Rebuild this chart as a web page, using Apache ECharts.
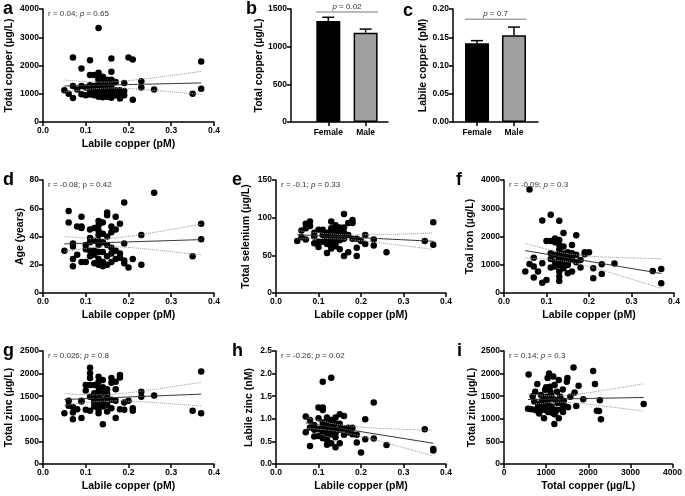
<!DOCTYPE html>
<html>
<head>
<meta charset="utf-8">
<script src="https://cdn.jsdelivr.net/npm/echarts@6/dist/echarts.min.js"></script>
<style>
  html, body { margin: 0; padding: 0; background: #fff; }
  #chart { width: 685px; height: 496px; }
</style>
</head>
<body>
<div id="chart"></div>
<script>
// ---- data ----
// a: labile copper vs total copper
var labileCuA = [0.05,0.06,0.07,0.07,0.07,0.08,0.09,0.09,0.09,0.10,0.10,0.11,0.11,0.11,0.11,0.12,0.12,0.12,0.13,0.13,0.13,0.13,0.13,0.13,0.14,0.14,0.14,0.14,0.15,0.15,0.15,0.16,0.16,0.16,0.16,0.16,0.16,0.17,0.17,0.18,0.18,0.18,0.19,0.19,0.19,0.20,0.21,0.21,0.23,0.23,0.26,0.35,0.37,0.37,0.12,0.13,0.14,0.15,0.14,0.13,0.15,0.16,0.12,0.17,0.11,0.15,0.14,0.16,0.13,0.12];
var totalCuA = [1120,1000,2280,1270,850,1150,1890,1270,980,1220,950,2190,1660,1120,970,1660,1270,950,3330,1740,1480,1240,1070,890,1600,1420,1180,950,1380,1120,890,2250,1780,1500,1300,1000,860,1420,1120,1120,980,830,1380,1100,950,2280,2210,790,1440,1220,1150,1000,2140,1180,1100,1000,1050,1000,880,1350,1250,1150,1000,950,1300,1500,1300,900,1550,1180];

// b, c: sex groups (mean, SEM)
var sexLabels = ['Female', 'Male'];
var sexPos = [1, 2];
var totalCuMean = [1340, 1185];
var totalCuSem = [50, 48];
var labileCuMean = [0.1395, 0.1537];
var labileCuSem = [0.0045, 0.0143];

// d: labile copper vs age
var labileCuD = [0.05,0.06,0.06,0.07,0.07,0.07,0.07,0.08,0.08,0.09,0.09,0.09,0.09,0.10,0.10,0.10,0.11,0.11,0.11,0.11,0.11,0.12,0.12,0.12,0.12,0.12,0.13,0.13,0.13,0.13,0.13,0.13,0.13,0.13,0.13,0.14,0.14,0.14,0.14,0.14,0.14,0.15,0.15,0.15,0.15,0.15,0.15,0.16,0.16,0.16,0.16,0.16,0.17,0.17,0.17,0.17,0.18,0.18,0.18,0.19,0.19,0.19,0.19,0.20,0.21,0.23,0.23,0.26,0.35,0.37,0.37];
var ageD = [30,58,50,35,33,24,19,47,27,54,47,46,22,34,31,22,45,39,36,30,26,46,37,30,27,21,51,48,44,41,37,34,29,24,20,50,42,36,29,22,19,57,55,40,34,26,20,47,43,32,28,22,54,45,30,24,49,28,25,64,35,23,21,18,24,41,20,71,26,49,38];

// e: labile copper vs total selenium
var labileCuE = [0.05,0.06,0.06,0.07,0.07,0.07,0.08,0.08,0.09,0.09,0.09,0.10,0.10,0.10,0.11,0.11,0.11,0.12,0.12,0.12,0.12,0.13,0.13,0.13,0.13,0.13,0.13,0.13,0.14,0.14,0.14,0.14,0.14,0.14,0.15,0.15,0.15,0.15,0.16,0.16,0.16,0.16,0.16,0.17,0.17,0.17,0.18,0.18,0.18,0.19,0.19,0.19,0.20,0.21,0.21,0.23,0.23,0.26,0.35,0.37,0.37,0.13,0.14,0.12,0.15,0.14,0.13];
var totalSeE = [69,83,74,92,86,71,95,89,80,75,66,84,68,61,84,77,68,77,72,65,53,95,86,82,75,71,64,59,90,84,80,75,71,66,87,80,74,58,105,87,80,72,49,93,77,54,97,93,72,72,60,49,69,77,65,71,63,54,69,94,64,78,77,80,70,62,68];

// f: labile copper vs total iron
var labileCuF = [0.05,0.06,0.06,0.07,0.07,0.07,0.08,0.09,0.09,0.09,0.10,0.10,0.11,0.11,0.11,0.11,0.12,0.12,0.12,0.12,0.13,0.13,0.13,0.13,0.13,0.13,0.13,0.13,0.13,0.13,0.14,0.14,0.14,0.14,0.14,0.15,0.15,0.15,0.15,0.16,0.16,0.16,0.16,0.17,0.17,0.17,0.18,0.18,0.19,0.19,0.20,0.21,0.21,0.23,0.23,0.26,0.35,0.37,0.37,0.12,0.14,0.15,0.13,0.11,0.16,0.14];
var totalFeF = [757,3660,1030,1250,935,545,757,2570,1050,367,1840,460,2770,1840,1410,900,1930,1350,935,1110,2560,1880,1700,1530,1350,1170,990,757,580,426,2120,1645,1290,1090,875,1440,1230,990,700,1700,1410,1170,757,2040,1350,1090,1170,900,1440,1370,1440,875,520,1020,675,1040,780,850,343,1800,1400,1100,1250,1200,1300,1000];

// g: labile copper vs total zinc
var labileCuG = [0.05,0.06,0.06,0.07,0.07,0.07,0.08,0.09,0.09,0.09,0.10,0.10,0.10,0.11,0.11,0.11,0.11,0.11,0.11,0.12,0.12,0.12,0.12,0.13,0.13,0.13,0.13,0.13,0.13,0.13,0.13,0.14,0.14,0.14,0.14,0.14,0.14,0.15,0.15,0.15,0.15,0.16,0.16,0.16,0.16,0.17,0.17,0.17,0.17,0.18,0.18,0.18,0.19,0.19,0.20,0.21,0.21,0.23,0.23,0.26,0.35,0.37,0.37,0.12,0.13,0.14,0.15,0.12];
var totalZnG = [1125,1400,1290,990,1260,1140,1210,1400,1380,1015,1625,1750,1200,2130,2010,1900,1750,1490,1180,1750,1565,1420,1270,1930,1820,1700,1600,1490,1380,1290,1125,1860,1700,1565,1420,1270,880,1655,1455,1310,1160,1900,1800,1420,1235,1820,1655,1400,1015,1970,1915,1210,1360,1200,1400,1235,1180,1600,1490,1515,1180,2045,1125,1350,1200,1350,1550,1480];

// h: labile copper vs labile zinc
var labileCuH = [0.07,0.07,0.08,0.08,0.08,0.09,0.09,0.09,0.10,0.10,0.10,0.11,0.11,0.11,0.11,0.11,0.11,0.11,0.12,0.12,0.12,0.12,0.12,0.12,0.13,0.13,0.13,0.13,0.13,0.14,0.14,0.14,0.14,0.14,0.15,0.15,0.15,0.15,0.16,0.16,0.16,0.19,0.19,0.20,0.21,0.21,0.23,0.23,0.26,0.35,0.37,0.37,0.17,0.17,0.18,0.18,0.13,0.12,0.14,0.10];
var labileZnH = [1.05,0.70,0.975,0.81,0.40,0.865,0.755,0.61,1.25,1.01,0.77,1.25,1.82,1.195,0.92,0.83,0.72,0.57,1.03,0.90,0.79,0.68,0.535,0.425,1.91,0.975,0.83,0.72,0.46,1.03,0.90,0.77,0.59,0.37,1.10,0.89,0.755,0.46,1.06,0.785,0.645,0.645,0.475,0.257,0.99,0.55,1.36,0.565,0.42,0.77,0.33,0.30,0.80,0.70,0.80,0.66,0.65,0.95,0.68,0.62];

// i: total copper vs total zinc
var totalCuI = [585,570,650,680,720,740,755,790,820,835,875,895,930,950,975,990,1005,1035,1050,1070,1090,1115,1130,1145,1170,1195,1210,1225,1255,1270,1300,1300,1335,1365,1395,1420,1460,1490,1505,1520,1575,1650,1675,1715,1770,1880,2115,2160,2205,2255,2275,2300,3315,900,1000,1100,1200,950,1050,1150,1250,800,1350,1400,1000,1200,1100];
var totalZnI = [1980,1225,1210,1500,1380,1600,1190,1770,1320,1120,1525,1390,1280,1010,1640,1490,1190,1900,1380,2000,1710,1525,1270,1135,1935,885,1420,1155,1600,1350,1860,1010,1490,1210,1650,1400,1270,1820,1900,1255,1490,2135,1580,1285,1730,1430,2055,1770,1180,1170,1410,990,1330,1200,1300,1250,1100,1400,1150,1450,1200,1250,1350,1150,1700,1750,1600];

var FONT = 'Liberation Sans, Arial, sans-serif';

var myChartDom = document.getElementById('chart');
var myChart = echarts.init(myChartDom, null, { renderer: 'canvas' });

function zip(xs, ys) {
  return xs.map(function (x, i) { return [x, ys[i]]; });
}

// least squares fit with 95% confidence band of the line
function regress(xs, ys) {
  var n = xs.length, mx = 0, my = 0;
  for (var i = 0; i < n; i++) { mx += xs[i]; my += ys[i]; }
  mx /= n; my /= n;
  var sxx = 0, sxy = 0;
  for (i = 0; i < n; i++) { sxx += (xs[i] - mx) * (xs[i] - mx); sxy += (xs[i] - mx) * (ys[i] - my); }
  var b = sxy / sxx, a = my - b * mx;
  var sse = 0;
  for (i = 0; i < n; i++) { var r = ys[i] - (a + b * xs[i]); sse += r * r; }
  var s = Math.sqrt(sse / (n - 2)), t = 1.994;
  var x0 = Math.min.apply(null, xs), x1 = Math.max.apply(null, xs);
  var line = [], up = [], lo = [];
  for (var k = 0; k <= 30; k++) {
    var x = x0 + (x1 - x0) * k / 30;
    var yh = a + b * x;
    var h = t * s * Math.sqrt(1 / n + (x - mx) * (x - mx) / sxx);
    line.push([x, yh]); up.push([x, yh + h]); lo.push([x, yh - h]);
  }
  return { line: line, up: up, lo: lo };
}

var grids = [
  { left: 43, top: 9, width: 171, height: 113 },    // a
  { left: 291, top: 9, width: 97, height: 113 },    // b
  { left: 453, top: 9, width: 85, height: 113 },    // c
  { left: 43, top: 180, width: 171, height: 113 },  // d
  { left: 276, top: 180, width: 170, height: 113 }, // e
  { left: 504, top: 180, width: 170, height: 113 }, // f
  { left: 43, top: 351, width: 171, height: 113 },  // g
  { left: 276, top: 351, width: 170, height: 113 }, // h
  { left: 504, top: 351, width: 170, height: 113 }  // i
];

function axis(grid, min, max, interval, name, gap, dec) {
  return {
    type: 'value', gridIndex: grid, min: min, max: max, interval: interval,
    name: name, nameLocation: 'middle', nameGap: gap,
    nameTextStyle: { fontFamily: FONT, fontWeight: 'bold', fontSize: 10.5, color: '#000' },
    axisLine: { show: true, onZero: false, lineStyle: { color: '#000', width: 1.5 } },
    axisTick: { show: true, length: 4, lineStyle: { color: '#000', width: 1.5 } },
    axisLabel: {
      fontFamily: FONT, fontWeight: 'bold', fontSize: 8.5, color: '#000', margin: 4,
      formatter: function (v) { return (+v).toFixed(dec); }
    },
    splitLine: { show: false }
  };
}

function sexAxis(grid, min, max) {
  var ax = axis(grid, min, max, 1, '', 0, 0);
  ax.axisLabel.customValues = sexPos;
  ax.axisLabel.margin = 6;
  ax.axisLabel.formatter = function (v) { return sexLabels[Math.round(v) - 1]; };
  ax.axisTick.customValues = sexPos;
  return ax;
}

var xAxes = [
  axis(0, 0, 0.4, 0.1, 'Labile copper (pM)', 17, 1),
  sexAxis(1, 0, 2.6),
  sexAxis(2, 0.35, 2.65),
  axis(3, 0, 0.4, 0.1, 'Labile copper (pM)', 17, 1),
  axis(4, 0, 0.4, 0.1, 'Labile copper (pM)', 17, 1),
  axis(5, 0, 0.4, 0.1, 'Labile copper (pM)', 17, 1),
  axis(6, 0, 0.4, 0.1, 'Labile copper (pM)', 17, 1),
  axis(7, 0, 0.4, 0.1, 'Labile copper (pM)', 17, 1),
  axis(8, 0, 4000, 1000, 'Total copper (\u00b5g/L)', 17, 0)
];

var yAxes = [
  axis(0, 0, 4000, 1000, 'Total copper (\u00b5g/L)', 28, 0),
  axis(1, 0, 1500, 500, 'Total copper (\u00b5g/L)', 18, 0),
  axis(2, 0, 0.2, 0.05, 'Labile copper (pM)', 20, 2),
  axis(3, 0, 80, 20, 'Age (years)', 11, 0),
  axis(4, 0, 150, 50, 'Total selenium (\u00b5g/L)', 24, 0),
  axis(5, 0, 4000, 1000, 'Toal iron (\u00b5g/L)', 28, 0),
  axis(6, 0, 2500, 500, 'Total zinc (\u00b5g/L)', 28, 0),
  axis(7, 0, 2.5, 0.5, 'Labile zinc (nM)', 21, 1),
  axis(8, 0, 2500, 500, 'Total zinc (\u00b5g/L)', 26, 0)
];

var scatterPanels = [
  { g: 0, xs: labileCuA, ys: totalCuA, note: 'r = 0.04; {i|p} = 0.65' },
  { g: 3, xs: labileCuD, ys: ageD, note: 'r = -0.08; p = 0.42' },
  { g: 4, xs: labileCuE, ys: totalSeE, note: 'r = -0.1; {i|p} = 0.33' },
  { g: 5, xs: labileCuF, ys: totalFeF, note: 'r = -0.09; {i|p} = 0.3' },
  { g: 6, xs: labileCuG, ys: totalZnG, note: 'r = 0.026; {i|p} = 0.8' },
  { g: 7, xs: labileCuH, ys: labileZnH, note: 'r = -0.26; {i|p} = 0.02' },
  { g: 8, xs: totalCuI, ys: totalZnI, note: 'r = 0.14; {i|p} = 0.3' }
];

var series = [];
var graphics = [];
var noteRich = { i: { fontStyle: 'italic', fontFamily: FONT, fontSize: 8, fill: '#333' } };

scatterPanels.forEach(function (p) {
  var fit = regress(p.xs, p.ys);
  series.push({
    type: 'scatter', xAxisIndex: p.g, yAxisIndex: p.g, symbolSize: 6.5,
    itemStyle: { color: '#000', opacity: 1 }, data: zip(p.xs, p.ys), z: 3, silent: true
  });
  series.push({
    type: 'line', xAxisIndex: p.g, yAxisIndex: p.g, showSymbol: false, data: fit.line,
    lineStyle: { color: '#333', width: 1 }, z: 4, silent: true
  });
  [fit.up, fit.lo].forEach(function (band) {
    series.push({
      type: 'line', xAxisIndex: p.g, yAxisIndex: p.g, showSymbol: false, smooth: true, data: band,
      lineStyle: { color: '#999', width: 1, type: 'dotted' }, z: 4, silent: true
    });
  });
  graphics.push({
    type: 'text', x: grids[p.g].left + 5, y: grids[p.g].top + 1,
    style: { text: p.note, rich: noteRich, fontFamily: FONT, fontSize: 8, fill: '#333' }
  });
});

// bar panels b and c
function barPanel(g, means, sems, capY, pText, capHalf) {
  series.push({
    type: 'bar', xAxisIndex: g, yAxisIndex: g, barWidth: 24, z: 2, silent: true,
    data: sexPos.map(function (x, i) {
      return { value: [x, means[i]], itemStyle: { color: i === 0 ? '#000' : '#a0a0a0', borderColor: '#000', borderWidth: 1.5 } };
    })
  });
  series.push({
    type: 'custom', xAxisIndex: g, yAxisIndex: g, z: 3, silent: true,
    data: sexPos.map(function (x, i) { return [x, means[i], means[i] + sems[i]]; }),
    renderItem: function (params, api) {
      var base = api.coord([api.value(0), api.value(1)]);
      var top = api.coord([api.value(0), api.value(2)]);
      var st = { stroke: '#000', lineWidth: 1.5 };
      return {
        type: 'group', children: [
          { type: 'line', shape: { x1: base[0], y1: base[1], x2: top[0], y2: top[1] }, style: st },
          { type: 'line', shape: { x1: top[0] - 6, y1: top[1], x2: top[0] + 6, y2: top[1] }, style: st }
        ]
      };
    }
  });
  series.push({
    type: 'custom', xAxisIndex: g, yAxisIndex: g, z: 3, silent: true,
    data: [[sexPos[0] - capHalf, sexPos[1] + capHalf, capY]],
    renderItem: function (params, api) {
      var p1 = api.coord([api.value(0), api.value(2)]);
      var p2 = api.coord([api.value(1), api.value(2)]);
      return {
        type: 'group', children: [
          { type: 'line', shape: { x1: p1[0], y1: p1[1], x2: p2[0], y2: p2[1] }, style: { stroke: '#777', lineWidth: 1 } },
          { type: 'text', x: (p1[0] + p2[0]) / 2, y: p1[1] - 1,
            style: { text: pText, rich: noteRich, fontFamily: FONT, fontSize: 8, fill: '#333', align: 'center', verticalAlign: 'bottom' } }
        ]
      };
    }
  });
}
barPanel(1, totalCuMean, totalCuSem, 1460, '{i|p} = 0.02', 0.33);
barPanel(2, labileCuMean, labileCuSem, 0.182, '{i|p} = 0.7', 0.33);

// panel letters
var letters = [
  ['a', 3, 0], ['b', 246, 0], ['c', 403, 2],
  ['d', 3, 171], ['e', 232, 171], ['f', 456, 171],
  ['g', 3, 342], ['h', 232, 342], ['i', 457, 342]
];
letters.forEach(function (l) {
  graphics.push({
    type: 'text', x: l[1], y: l[2],
    style: { text: l[0], fontFamily: FONT, fontWeight: 'bold', fontSize: 18, fill: '#000' }
  });
});

var option = {
  backgroundColor: '#fff',
  animation: false,
  grid: grids,
  xAxis: xAxes,
  yAxis: yAxes,
  series: series,
  graphic: graphics
};

option && myChart.setOption(option);
</script>
</body>
</html>
